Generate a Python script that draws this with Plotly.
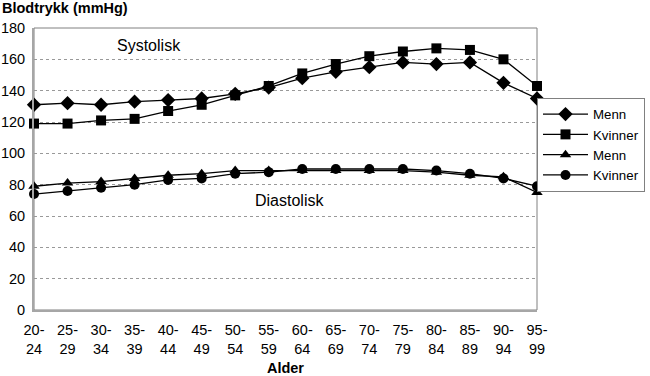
import plotly.graph_objects as go

age_groups = ["20-<br>24", "25-<br>29", "30-<br>34", "35-<br>39", "40-<br>44", "45-<br>49",
              "50-<br>54", "55-<br>59", "60-<br>64", "65-<br>69", "70-<br>74", "75-<br>79",
              "80-<br>84", "85-<br>89", "90-<br>94", "95-<br>99"]

sys_menn = [131, 132, 131, 133, 134, 135, 138, 142, 148, 152, 155, 158, 157, 158, 145, 135]
sys_kvinner = [119, 119, 121, 122, 127, 131, 137, 143, 151, 157, 162, 165, 167, 166, 160, 143]
dia_menn = [79, 81, 82, 84, 86, 87, 89, 89, 89, 89, 89, 89, 88, 86, 85, 75]
dia_kvinner = [74, 76, 78, 80, 83, 84, 87, 88, 90, 90, 90, 90, 89, 87, 84, 79]

y_ticks = [0, 20, 40, 60, 80, 100, 120, 140, 160, 180]

series = [
    ("Menn", sys_menn, "diamond", 11),
    ("Kvinner", sys_kvinner, "square", 10),
    ("Menn", dia_menn, "triangle-up", 10),
    ("Kvinner", dia_kvinner, "circle", 10),
]

fig = go.Figure()
for name, vals, sym, sz in series:
    fig.add_trace(go.Scatter(
        x=age_groups, y=vals, name=name, mode="lines+markers",
        line=dict(color="black", width=1.3),
        marker=dict(symbol=sym, size=sz, color="black"),
        cliponaxis=False,
    ))

font = "Liberation Sans, Arial, sans-serif"
fig.update_layout(
    width=650, height=376,
    margin=dict(l=34, r=113, t=28, b=66, autoexpand=False),
    paper_bgcolor="white", plot_bgcolor="white",
    font=dict(family=font, size=14.5, color="black"),
    showlegend=True,
    legend=dict(x=1.0, y=0.752, xanchor="left", yanchor="top",
                bgcolor="white", bordercolor="#808080", borderwidth=1,
                font=dict(size=13.3), tracegroupgap=0, itemwidth=45),
    xaxis=dict(type="category", range=[0, 15], showgrid=False, automargin=False,
               showline=True, linecolor="#a6a6a6", linewidth=2,
               ticks="", tickfont=dict(size=14.5), ticklabelstandoff=6,
               title=dict(text="<b>Alder</b>", font=dict(size=14.5), standoff=7)),
    yaxis=dict(range=[0, 180], tickvals=y_ticks, showgrid=True, automargin=False,
               gridcolor="#999999", griddash="dot", gridwidth=1,
               showline=True, linecolor="#a6a6a6", linewidth=2,
               ticks="", zeroline=False, tickfont=dict(size=14.5), ticklabelstandoff=4),
    shapes=[dict(type="rect", xref="paper", yref="paper", x0=0, x1=1, y0=0, y1=1,
                 line=dict(color="#808080", width=1), layer="below")],
    annotations=[
        dict(text="<b>Blodtrykk (mmHg)</b>", xref="paper", yref="paper",
             x=-34/503, y=1.0 + 20/282, xanchor="left", yanchor="middle",
             showarrow=False, font=dict(size=14.5)),
        dict(text="Systolisk", xref="x", yref="y", x=3.42, y=169,
             showarrow=False, font=dict(size=16)),
        dict(text="Diastolisk", xref="x", yref="y", x=7.63, y=70,
             showarrow=False, font=dict(size=16)),
    ],
)

fig.write_html("out.html", config={"displayModeBar": False},
               post_script="document.body.style.margin='0';document.body.style.overflow='hidden';")
